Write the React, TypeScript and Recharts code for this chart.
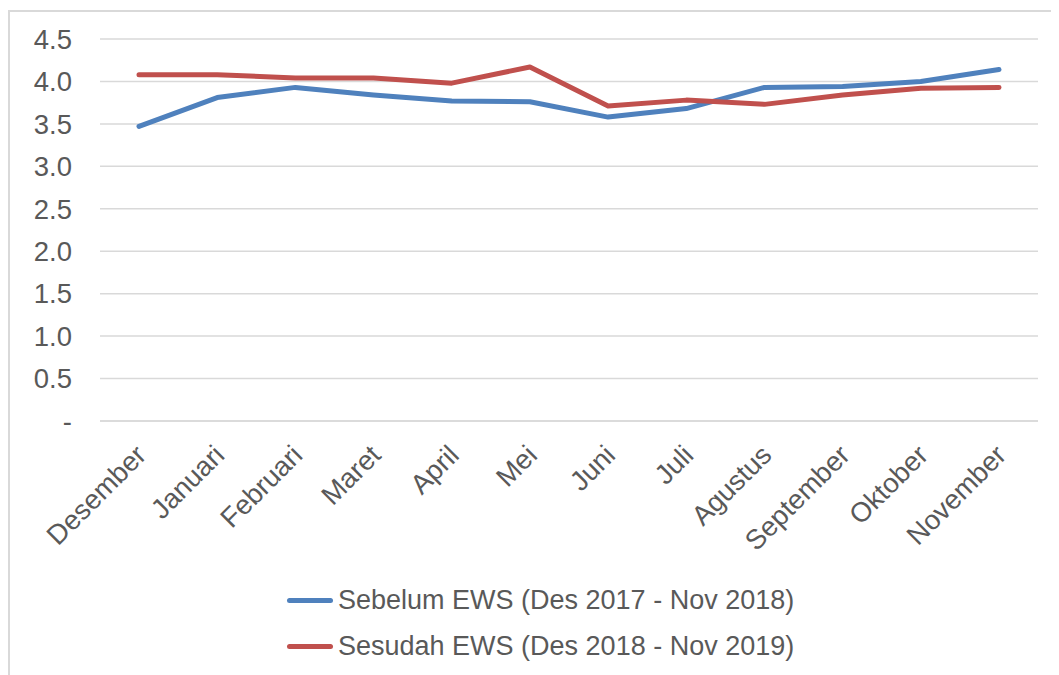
import React from "react";
import { LineChart, Line, XAxis, YAxis, CartesianGrid, Legend } from "recharts";

const months = ["Desember", "Januari", "Februari", "Maret", "April", "Mei", "Juni", "Juli", "Agustus", "September", "Oktober", "November"];
const sebelum = [3.47, 3.81, 3.93, 3.84, 3.77, 3.76, 3.58, 3.68, 3.93, 3.94, 4.0, 4.14];
const sesudah = [4.08, 4.08, 4.04, 4.04, 3.98, 4.17, 3.71, 3.78, 3.73, 3.84, 3.92, 3.93];
const yTicks = [0, 0.5, 1.0, 1.5, 2.0, 2.5, 3.0, 3.5, 4.0, 4.5];
const seriesNames = ["Sebelum EWS (Des 2017 - Nov 2018)", "Sesudah EWS (Des 2018 - Nov 2019)"];
const seriesColors = ["#4F81BD", "#C0504D"];

const data = months.map((m, i) => ({ month: m, sebelum: sebelum[i], sesudah: sesudah[i] }));

const FONT = "'Liberation Sans', Arial, sans-serif";
const TEXT = "#595959";

const XTick = (props: any) => {
  const { x, y, payload } = props;
  return (
    <g transform={`translate(${x + 2},${y + 21})`}>
      <text textAnchor="end" dy="0.35em" transform="rotate(-45)" fill={TEXT} fontSize={27.5} fontFamily={FONT}>
        {payload.value}
      </text>
    </g>
  );
};

const LegendContent = (props: any) => {
  const { payload } = props;
  return (
    <div style={{ fontFamily: FONT, color: TEXT, fontSize: 27 }}>
      {(payload || []).map((p: any, i: number) => (
        <div key={i} style={{ display: "flex", alignItems: "center", height: 46 }}>
          <span style={{ display: "inline-block", width: 46, height: 5, borderRadius: 3, background: p.color, marginRight: 5 }} />
          <span style={{ whiteSpace: "nowrap" }}>{p.value}</span>
        </div>
      ))}
    </div>
  );
};

export default function App() {
  return (
    <div style={{ paddingTop: 2 }}>
      <div style={{ width: 1049, height: 663, borderTop: "2px solid #d9d9d9", borderLeft: "2px solid #d9d9d9", background: "#fff" }}>
        <LineChart width={1049} height={663} data={data} margin={{ top: 27, right: 21, left: 0, bottom: 54 }}>
          <CartesianGrid vertical={false} stroke="#d9d9d9" strokeWidth={1.5} />
          <XAxis
            dataKey="month"
            height={200}
            interval={0}
            padding={{ left: 39, right: 39 }}
            axisLine={{ stroke: "#d9d9d9", strokeWidth: 1.5 }}
            tickLine={false}
            tick={<XTick />}
          />
          <YAxis
            width={90}
            domain={[0, 4.5]}
            ticks={yTicks}
            axisLine={false}
            tickLine={false}
            tickMargin={22}
            tickFormatter={(v: number) => (v === 0 ? "-" : v.toFixed(1))}
            tick={{ fill: TEXT, fontSize: 27.5, fontFamily: FONT }}
          />
          <Line dataKey="sebelum" name={seriesNames[0]} stroke={seriesColors[0]} strokeWidth={5} dot={false} strokeLinecap="round" strokeLinejoin="round" isAnimationActive={false} />
          <Line dataKey="sesudah" name={seriesNames[1]} stroke={seriesColors[1]} strokeWidth={5} dot={false} strokeLinecap="round" strokeLinejoin="round" isAnimationActive={false} />
          <Legend
            layout="horizontal"
            verticalAlign="middle"
            align="center"
            content={<LegendContent />}
            wrapperStyle={{ position: "absolute", left: 277, top: 565, width: "auto" }}
          />
        </LineChart>
      </div>
    </div>
  );
}
